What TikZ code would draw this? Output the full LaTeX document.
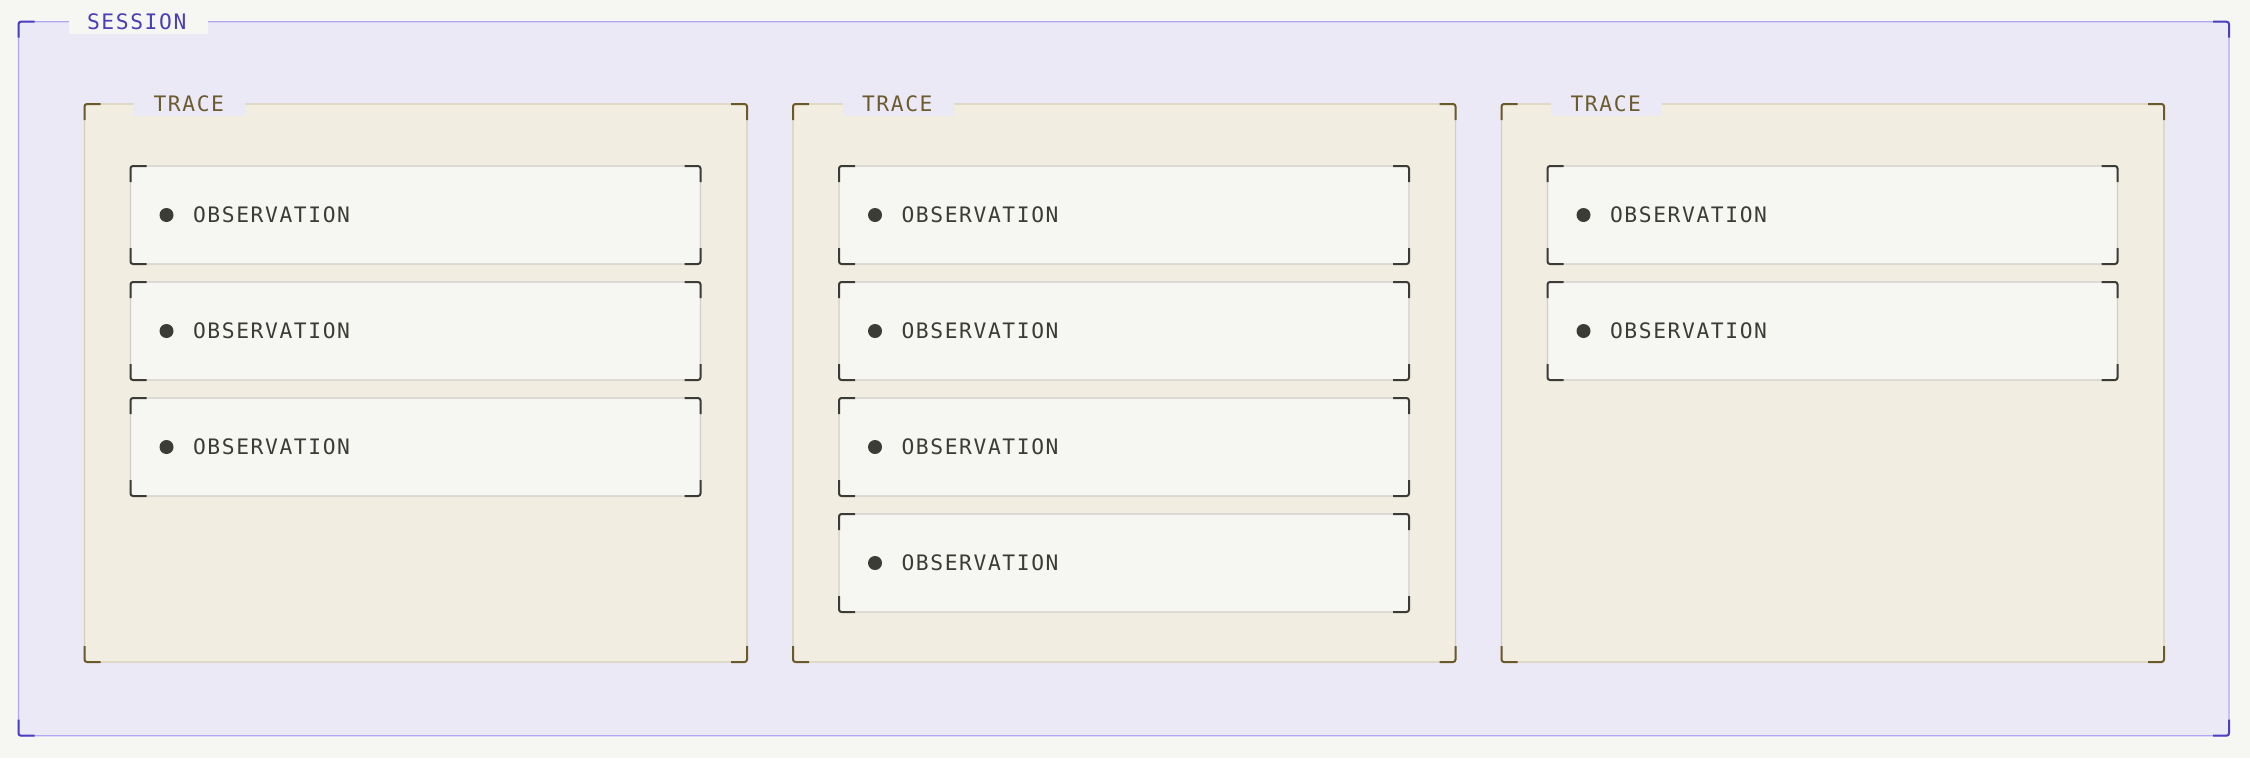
\documentclass[tikz,border=0pt]{standalone}
\usepackage{fontspec}
\setmonofont{DejaVu Sans Mono}[LetterSpace=7.5]
\usetikzlibrary{calc}
\definecolor{bg}{HTML}{F6F6F2}
\definecolor{sesfill}{HTML}{ECE9F7}
\definecolor{sesborder}{HTML}{AFA8EE}
\definecolor{sescorner}{HTML}{4B3FBF}
\definecolor{sestext}{HTML}{4B3FB5}
\definecolor{trfill}{HTML}{F1EDE1}
\definecolor{trborder}{HTML}{D7CFB5}
\definecolor{trcorner}{HTML}{6A5A2A}
\definecolor{trtext}{HTML}{6B5B2E}
\definecolor{obfill}{HTML}{F6F6F2}
\definecolor{obborder}{HTML}{CFCDC8}
\definecolor{obcorner}{HTML}{3C3C37}
\definecolor{obtext}{HTML}{3C3C37}
\newcommand\mycorners[2]{%
  \draw[cornerline,#2] ($(#1.north west)+(0,16)$) -- (#1.north west) -- ($(#1.north west)+(16,0)$);
  \draw[cornerline,#2] ($(#1.north east)+(-16,0)$) -- (#1.north east) -- ($(#1.north east)+(0,16)$);
  \draw[cornerline,#2] ($(#1.south east)+(0,-16)$) -- (#1.south east) -- ($(#1.south east)+(-16,0)$);
  \draw[cornerline,#2] ($(#1.south west)+(16,0)$) -- (#1.south west) -- ($(#1.south west)+(0,-16)$);
}
\begin{document}
\begin{tikzpicture}[x=1pt,y=-1pt,
  box/.style={draw, line width=1.3pt, inner sep=0, outer sep=0, anchor=north west, rounded corners=2pt},
  sessionbox/.style={box, draw=sesborder, fill=sesfill, minimum width=2210.5pt, minimum height=714pt},
  tracebox/.style={box, draw=trborder, fill=trfill, minimum width=662.5pt, minimum height=558pt},
  obsbox/.style={box, draw=obborder, fill=obfill, minimum width=570pt, minimum height=98pt},
  cornerline/.style={line width=2pt, rounded corners=2.5pt},
  patch/.style={inner sep=0, outer sep=0, anchor=west, minimum height=24pt},
  sespatch/.style={patch, fill=bg, minimum width=139.4pt},
  trpatch/.style={patch, fill=sesfill, minimum width=111pt},
  lbl/.style={inner sep=0, outer sep=0, anchor=base west, font=\ttfamily\fontsize{21.3}{25}\selectfont},
  sestxt/.style={lbl, text=sestext},
  trtxt/.style={lbl, text=trtext},
  obtxt/.style={lbl, text=obtext},
  dot/.style={circle, fill=obtext, inner sep=0, minimum size=14pt}
]
\fill[bg] (0,0) rectangle (2250,758);
\useasboundingbox (0,0) rectangle (2250,758);
\node[sessionbox] (s) at (18.5,21.7) {};
\mycorners{s}{sescorner}
\node[sespatch] (sp) at ($(s.north west)+(50,0)$) {};
\node[sestxt] (st) at ($(s.north west)+(68.5,7.4)$) {SESSION};
\foreach \t/\tx/\n in {1/84.5/3, 2/793/4, 3/1501.5/2} {
  \node[tracebox] (t\t) at (\tx,104) {};
  \mycorners{t\t}{trcorner}
  \node[trpatch] (tp\t) at ($(t\t.north west)+(49.5,0)$) {};
  \node[trtxt] (tt\t) at ($(t\t.north west)+(69,7.3)$) {TRACE};
  \foreach \i in {1,...,\n} {
    \pgfmathsetmacro\oy{62+116*(\i-1)}
    \node[obsbox] (o\t\i) at ($(t\t.north west)+(46,\oy)$) {};
    \mycorners{o\t\i}{obcorner}
    \node[dot] (d\t\i) at ($(o\t\i.west)+(36,0)$) {};
    \node[obtxt] (x\t\i) at ($(o\t\i.west)+(62.5,7.8)$) {OBSERVATION};
  }
}
\end{tikzpicture}
\end{document}
